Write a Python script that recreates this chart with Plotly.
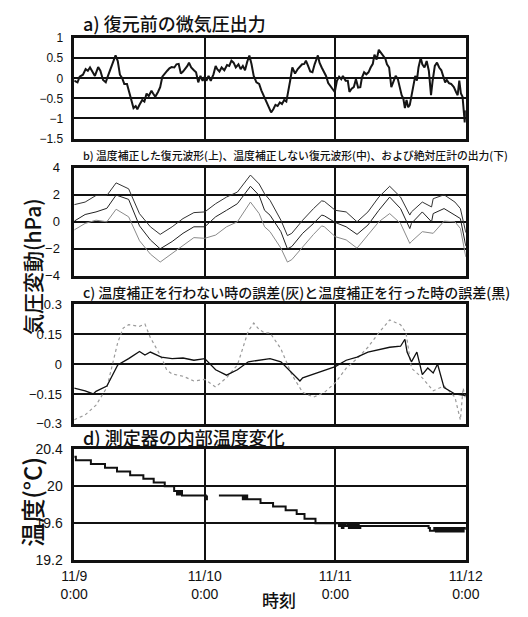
import plotly.graph_objects as go

# ---------------- data (hours since 11/9 0:00) ----------------
a_hours = [0.0, 0.6, 1.0, 1.6, 2.1, 2.5, 2.9, 3.4, 3.8, 4.4, 4.8, 5.3, 5.8, 6.2, 6.7, 7.1, 7.6, 8.0,
           8.4, 8.8, 9.2, 9.7, 10.2, 10.6, 10.9, 11.3, 11.6, 12.0, 12.5, 12.9, 13.3, 13.7, 14.2, 14.5,
           14.9, 15.4, 15.8, 16.2, 16.6, 17.1, 17.5, 17.9, 18.4, 18.8, 19.2, 19.6, 20.0, 20.4, 20.8,
           21.1, 21.5, 22.0, 22.4, 22.8, 23.2, 23.6, 24.0, 24.3, 24.7, 25.1, 25.6, 26.0, 26.3, 26.7,
           27.1, 27.6, 28.1, 28.5, 28.9, 29.3, 29.7, 30.2, 30.6, 31.0, 31.4, 31.8, 32.2, 32.6, 33.0,
           33.5, 34.0, 34.4, 34.8, 35.2, 35.7, 36.2, 36.6, 37.0, 37.4, 37.8, 38.2, 38.6, 39.0, 39.3,
           39.7, 40.1, 40.6, 41.1, 41.5, 41.9, 42.3, 42.6, 43.0, 43.4, 43.8, 44.2, 44.8, 45.1, 45.5,
           45.9, 46.3, 46.7, 47.1, 47.5, 47.9, 48.3, 48.7, 49.1, 49.4, 49.9, 50.3, 50.6, 51.0, 51.4,
           51.8, 52.2, 52.6, 52.9, 53.3, 53.7, 54.1, 54.5, 54.9, 55.2, 55.6, 56.0, 56.4, 56.8, 57.2,
           57.5, 57.9, 58.3, 58.7, 59.1, 59.5, 59.8, 60.2, 60.5, 60.8, 61.1, 61.4, 61.7, 62.0, 62.4,
           62.7, 63.0, 63.3, 63.7, 64.0, 64.4, 64.8, 65.2, 65.6, 65.9, 66.3, 66.7, 67.1, 67.5, 67.8,
           68.2, 68.5, 68.9, 69.3, 69.8, 70.2, 70.5, 70.8, 71.1, 71.4, 71.6, 71.8, 72.0]
a_vals = [-0.06, -0.10, 0.04, 0.09, 0.23, 0.19, 0.27, 0.15, 0.06, 0.28, 0.19, -0.04, -0.10, 0.06, 0.23,
          0.39, 0.57, 0.43, 0.09, 0.01, -0.14, -0.14, -0.42, -0.58, -0.74, -0.69, -0.77, -0.66, -0.54,
          -0.58, -0.38, -0.44, -0.31, -0.38, -0.46, -0.34, -0.22, 0.04, 0.12, 0.19, 0.25, 0.28, 0.27,
          0.35, 0.36, 0.12, 0.17, 0.23, 0.31, 0.39, 0.27, 0.20, 0.15, -0.10, 0.06, -0.06, 0.04, -0.06,
          0.06, -0.06, 0.10, 0.31, 0.23, 0.17, 0.27, 0.20, 0.33, 0.31, 0.44, 0.39, 0.27, 0.35, 0.23,
          0.31, 0.20, 0.41, 0.57, 0.35, 0.06, -0.10, -0.14, -0.30, -0.42, -0.58, -0.70, -0.85, -0.77,
          -0.66, -0.69, -0.60, -0.64, -0.54, -0.58, -0.38, -0.06, 0.27, 0.12, 0.23, 0.28, 0.35, 0.36,
          0.44, 0.31, 0.17, 0.15, 0.35, 0.57, 0.39, 0.27, 0.15, 0.06, -0.12, -0.20, -0.26, -0.34,
          -0.06, 0.04, -0.02, 0.06, -0.06, -0.06, -0.34, -0.26, -0.22, -0.02, -0.23, -0.22, 0.02, 0.15,
          0.10, 0.15, 0.27, 0.36, 0.59, 0.47, 0.71, 0.63, 0.55, 0.49, 0.35, 0.27, -0.22, -0.10, 0.06,
          -0.02, -0.22, -0.42, -0.50, -0.74, -0.54, -0.72, -0.66, -0.46, -0.14, 0.06, -0.06, 0.27,
          0.51, 0.35, 0.27, 0.43, 0.19, -0.42, -0.06, 0.31, 0.39, 0.27, 0.20, 0.06, -0.10, -0.04,
          -0.12, -0.14, -0.22, -0.34, -0.42, -0.06, -0.38, -0.46, -0.94, -1.10, -0.80]

b_hours = [0, 2, 4, 6, 7.7, 10, 12, 14, 15.8, 18, 20, 22, 24, 26, 28, 30, 32.4, 34, 35, 36, 38, 39.2,
           40, 42, 44, 45.5, 46, 48, 50, 52, 54, 56, 58, 60, 61.7, 62, 64, 65.7, 66, 68, 70, 71, 72]
b_upper = [1.27, 1.46, 1.95, 1.95, 2.88, 2.44, 0.6, -0.37, -0.93, -0.37, 0.24, 0.68, 0.73, 1.34, 1.83,
           2.2, 3.46, 2.8, 2.07, 1.59, 0.12, -1.02, -0.85, 0.12, 0.98, 1.55, 1.51, 0.85, 0.73, 0.0,
           0.73, 1.83, 2.63, 1.83, 0.5, 0.73, 1.46, 1.1, 1.71, 2.0, 1.46, 0.98, -0.8]
b_middle = [0.05, 0.54, 0.73, 1.0, 1.98, 1.66, -0.3, -1.34, -2.0, -1.46, -0.85, -0.37, -0.37, 0.37,
            0.85, 1.34, 2.63, 1.95, 0.85, 0.49, -0.73, -2.0, -1.83, -0.85, -0.12, 0.5, 0.44, -0.05,
            -0.37, -0.93, -0.24, 0.85, 1.83, 0.98, -0.5, -0.12, 0.73, 0.0, 0.61, 0.98, 0.49, 0.24, -1.8]
b_lower = [-0.6, -0.12, 0.12, 0.0, 0.93, 0.37, -1.4, -2.39, -2.98, -2.32, -1.76, -1.17, -1.22, -0.98,
           -0.37, 0.0, 1.46, 0.61, -0.37, -0.73, -1.95, -2.98, -2.8, -1.83, -0.93, -0.3, -0.37, -1.1,
           -1.34, -1.95, -0.98, 0.0, 0.61, -0.12, -1.6, -1.46, -0.73, -0.85, -0.85, 0.05, 0.0, -0.49,
           -2.6]

c_black_hours = [0, 2, 3.5, 4, 6, 7, 8, 10, 12, 13, 14, 16, 18, 20, 22, 24, 26, 28, 30, 32, 34, 35, 36,
                 38, 40, 41.5, 42, 44, 46, 48, 50, 52, 54, 56, 58, 60, 60.8, 61.2, 62, 63, 64, 65, 66,
                 66.8, 68, 70, 72]
c_black = [-0.121, -0.134, -0.15, -0.137, -0.11, -0.06, -0.005, 0.027, 0.063, 0.045, 0.06, 0.035, 0.027,
           0.03, 0.019, 0.027, -0.029, -0.056, -0.029, 0.011, 0.019, 0.024, 0.027, 0.011, -0.045, -0.085,
           -0.069, -0.05, -0.029, -0.013, 0.019, 0.035, 0.06, 0.073, 0.084, 0.089, 0.124, 0.06, 0.011,
           0.06, -0.053, -0.02, -0.045, 0.0, -0.118, -0.15, -0.158]
c_gray_hours = [0, 2, 4, 6, 8, 9, 10, 12, 13, 14, 16, 17, 18, 20, 22, 24, 26, 28, 30, 32, 33, 34, 35, 36,
                38, 40, 42, 44, 46, 48, 50, 52, 54, 56, 58, 60, 61, 62, 64, 66, 68, 70, 71, 71.5, 72]
c_gray = [-0.279, -0.255, -0.206, -0.118, 0.108, 0.18, 0.197, 0.189, 0.2, 0.132, 0.035, -0.03, -0.05,
          -0.061, -0.085, -0.077, -0.115, -0.069, -0.005, 0.165, 0.205, 0.173, 0.156, 0.156, 0.076,
          -0.053, -0.142, -0.166, -0.142, -0.094, -0.021, 0.027, 0.084, 0.156, 0.221, 0.197, 0.156,
          -0.021, -0.069, -0.134, -0.11, -0.166, -0.28, -0.12, -0.18]

d_hours = [0, 0.3, 3.06, 5.66, 7.86, 10.28, 12.71, 14.61, 16.64, 18.37, 18.9, 19.1, 19.3, 19.5, 19.81,
           24.2, 24.4, 24.7, 26.6, 31.0, 31.2, 31.4, 31.6, 31.8, 34.25, 36.56, 38.87, 40.9, 42.34, 44.36,
           48.69, 48.9, 49.2, 49.5, 49.8, 50.2, 50.5, 50.8, 51.1, 51.4, 51.7, 52.0, 52.3, 52.6, 65.16,
           65.4, 66.2, 66.5, 66.8, 67.1, 67.4, 67.7, 68.0, 68.3, 68.6, 68.9, 69.2, 69.5, 69.8, 70.1,
           70.4, 70.7, 71.0, 71.3, 71.6, 72.0]
d_temp = [20.32, 20.28, 20.24, 20.20, 20.16, 20.12, 20.08, 20.04, 20.00, 19.95, 19.91, 19.95, 19.91,
          19.95, 19.90, 19.86, 19.90, None, 19.90, 19.86, 19.90, 19.86, 19.90, 19.86, 19.82, 19.78,
          19.74, 19.70, 19.65, 19.60, 19.57, 19.60, 19.55, 19.60, 19.57, 19.60, 19.55, 19.60, 19.55,
          19.60, 19.55, 19.60, 19.55, 19.57, 19.55, 19.52, 19.55, 19.51, 19.55, 19.51, 19.55, 19.51,
          19.55, 19.51, 19.55, 19.51, 19.55, 19.51, 19.55, 19.51, 19.55, 19.51, 19.55, 19.51, 19.55,
          19.53]

x_tickvals = [0, 24, 48, 72]
x_ticktext = ["11/9<br>0:00", "11/10<br>0:00", "11/11<br>0:00", "11/12<br>0:00"]

# ---------------- figure ----------------
W, H = 528, 617
fig = go.Figure()

fig.add_trace(go.Scatter(x=a_hours, y=a_vals, mode="lines", line=dict(color="#151515", width=2),
                         xaxis="x", yaxis="y"))
fig.add_trace(go.Scatter(x=b_hours, y=b_upper, mode="lines", line=dict(color="#333", width=1),
                         xaxis="x2", yaxis="y2"))
fig.add_trace(go.Scatter(x=b_hours, y=b_middle, mode="lines", line=dict(color="#222", width=1),
                         xaxis="x2", yaxis="y2"))
fig.add_trace(go.Scatter(x=b_hours, y=b_lower, mode="lines", line=dict(color="#8a8a8a", width=1),
                         xaxis="x2", yaxis="y2"))
fig.add_trace(go.Scatter(x=c_gray_hours, y=c_gray, mode="lines",
                         line=dict(color="#9a9a9a", width=1.2, dash="dot"), xaxis="x3", yaxis="y3"))
fig.add_trace(go.Scatter(x=c_black_hours, y=c_black, mode="lines", line=dict(color="#111", width=1.3),
                         xaxis="x3", yaxis="y3"))
fig.add_trace(go.Scatter(x=d_hours, y=d_temp, mode="lines", line=dict(color="#111", width=2, shape="hv"),
                         connectgaps=False, xaxis="x4", yaxis="y4"))


def py(px):
    return 1 - px / H


xdom = [64 / W, 480 / W]
tickfont_std = dict(family="Liberation Sans, Arial, sans-serif", size=12, color="#111")
tickfont_nar = dict(family="Liberation Sans Narrow, Liberation Sans, Arial, sans-serif", size=13,
                    color="#111")

common_x = dict(range=[0, 72], tickvals=x_tickvals, showgrid=True, gridcolor="#111", gridwidth=1.5,
                showline=True, mirror=True, linecolor="#111", linewidth=2.5, zeroline=False,
                ticks="", domain=xdom, fixedrange=True)
common_y = dict(showgrid=True, gridcolor="#111", gridwidth=1.5, showline=True, mirror=True,
                linecolor="#111", linewidth=2.5, zeroline=False, ticks="", fixedrange=True)

fig.update_layout(
    width=W, height=H, margin=dict(l=0, r=0, t=0, b=0),
    paper_bgcolor="white", plot_bgcolor="white", showlegend=False,
    xaxis=dict(common_x, anchor="y", showticklabels=False),
    xaxis2=dict(common_x, anchor="y2", showticklabels=False),
    xaxis3=dict(common_x, anchor="y3", showticklabels=False),
    xaxis4=dict(common_x, anchor="y4", showticklabels=True, ticktext=x_ticktext,
                tickfont=dict(family="Liberation Sans, Arial, sans-serif", size=14, color="#111"),
                ticklabelstandoff=1),
    yaxis=dict(common_y, anchor="x", domain=[py(134), py(31)], range=[-1.5, 1],
               tickvals=[-1.5, -1, -0.5, 0, 0.5, 1], ticktext=["−1.5", "−1", "−0.5", "0", "0.5", "1"],
               tickfont=tickfont_std, ticklabelstandoff=6),
    yaxis2=dict(common_y, anchor="x2", domain=[py(275), py(164)], range=[-4, 4],
                tickvals=[-4, -2, 0, 2, 4], ticktext=["−4", "−2", "0", "2", "4"],
                tickfont=dict(tickfont_std, size=13), ticklabelstandoff=9),
    yaxis3=dict(common_y, anchor="x3", domain=[py(427), py(304)], range=[-0.3, 0.3],
                tickvals=[-0.3, -0.15, 0, 0.15, 0.3], ticktext=["−0.3", "−0.15", "0", "0.15", "0.3"],
                tickfont=tickfont_nar, ticklabelstandoff=7),
    yaxis4=dict(common_y, anchor="x4", domain=[py(567), py(453)], range=[19.2, 20.4],
                tickvals=[19.2, 19.6, 20, 20.4], ticktext=["19.2", "19.6", "20", "20.4"],
                tickfont=dict(tickfont_nar, size=14), ticklabelstandoff=6),
)

jp = "Noto Sans CJK JP"


def note(text, xpx, ypx, size, xanchor="left", angle=0):
    fig.add_annotation(text=text, xref="paper", yref="paper", x=xpx / W, y=py(ypx),
                       xanchor=xanchor, yanchor="middle", showarrow=False, textangle=angle,
                       font=dict(family=jp, size=size, color="#111", weight=500))


note("a) 復元前の微気圧出力", 71, 15, 18)
note("b) 温度補正した復元波形(上)、温度補正しない復元波形(中)、および絶対圧計の出力(下)", 71, 151, 10.8)
note("c) 温度補正を行わない時の誤差(灰)と温度補正を行った時の誤差(黒)", 71, 292, 14)
note("d) 測定器の内部温度変化", 71, 440, 18)
note("気圧変動(hPa)", 19, 265, 21, xanchor="center", angle=-90)
note("温度(°C)", 19, 507, 24, xanchor="center", angle=-90)
note("時刻", 281, 607, 17, xanchor="center")

fig.write_html("out.html")
